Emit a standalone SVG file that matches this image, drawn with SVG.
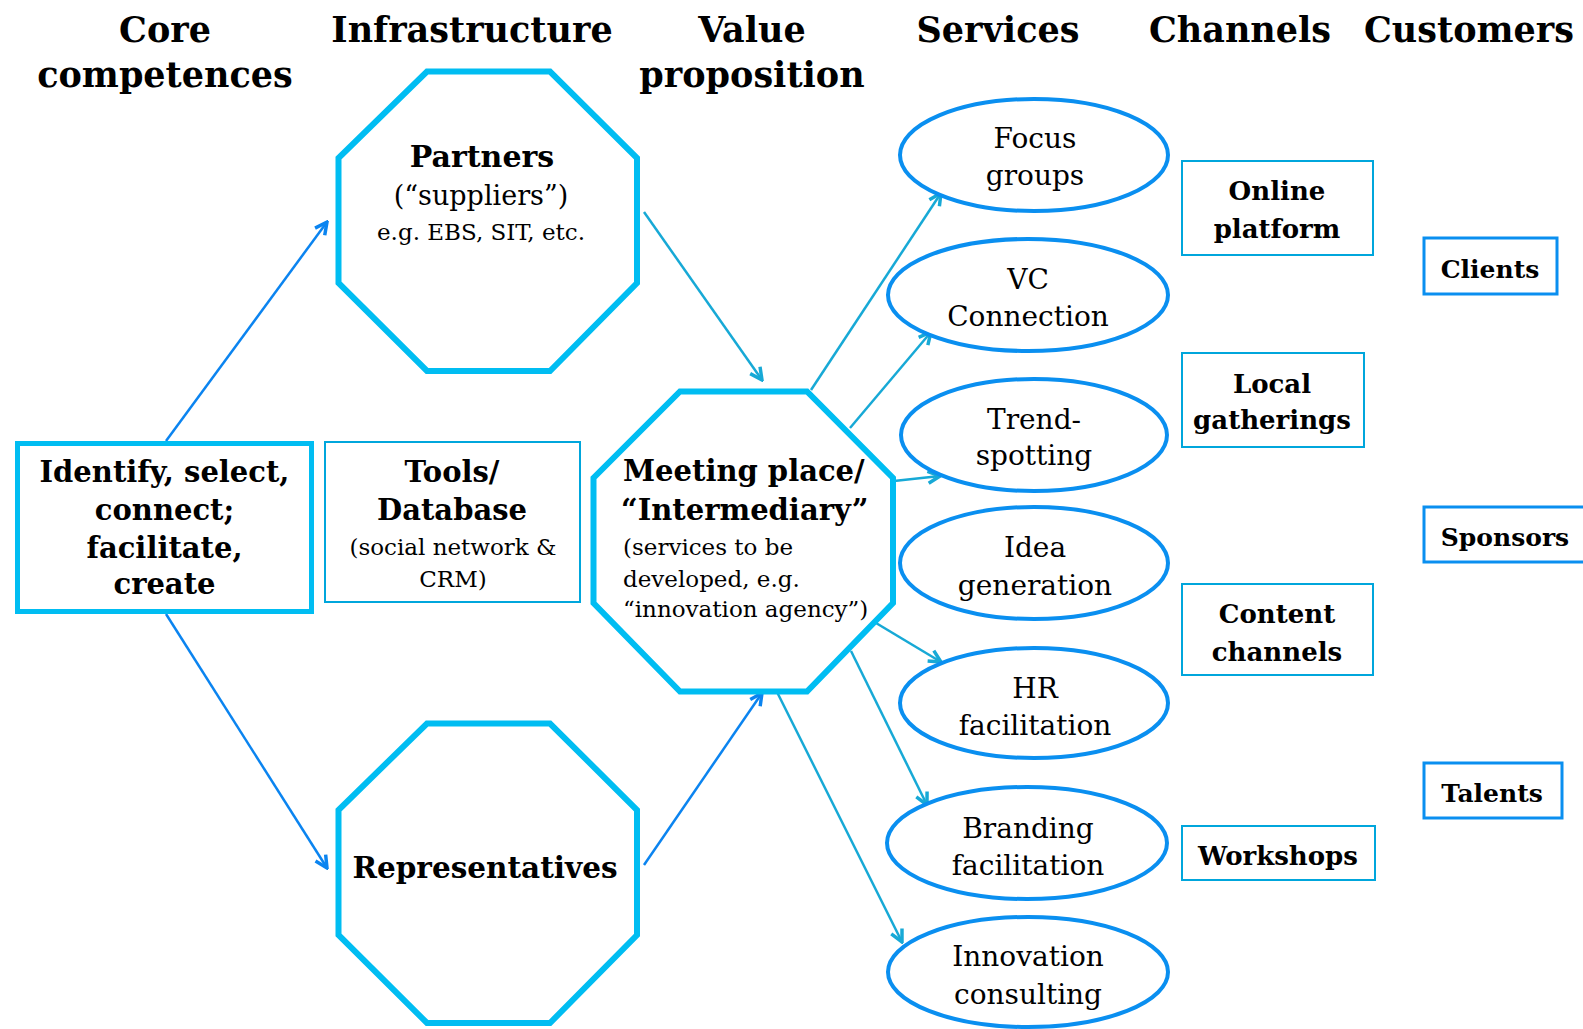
<svg xmlns="http://www.w3.org/2000/svg" width="1583" height="1029" viewBox="0 0 1583 1029">
<defs>
<style>
text{font-family:"DejaVu Serif","Liberation Serif",serif;fill:#000;text-anchor:middle}
.h{font-weight:bold;font-size:35px}
.b{font-weight:bold}
.oct{fill:#fff;stroke:#00BDF2;stroke-width:6;stroke-linejoin:miter}
.thick{fill:#fff;stroke:#00BDF2;stroke-width:5}
.thin{fill:#fff;stroke:#00A6DC;stroke-width:2}
.cust{fill:#fff;stroke:#0A8FF0;stroke-width:3}
.ell{fill:#fff;stroke:#0A8FF0;stroke-width:4}
.sv{font-size:28px}
.ch{font-size:26px;font-weight:bold}
.cu{font-size:25px;font-weight:bold}
.lb{stroke:#0B84F0;stroke-width:2.5;fill:none;marker-end:url(#ab)}
.lt{stroke:#17A9D6;stroke-width:2.5;fill:none;marker-end:url(#at)}
</style>
<marker id="ab" viewBox="0 0 12 12" refX="10.5" refY="6" markerWidth="16" markerHeight="16" markerUnits="userSpaceOnUse" orient="auto"><path d="M1.5,1.5 L10.5,6 L1.5,10.5" fill="none" stroke="#0B84F0" stroke-width="2.6"/></marker>
<marker id="at" viewBox="0 0 12 12" refX="10.5" refY="6" markerWidth="16" markerHeight="16" markerUnits="userSpaceOnUse" orient="auto"><path d="M1.5,1.5 L10.5,6 L1.5,10.5" fill="none" stroke="#17A9D6" stroke-width="2.6"/></marker>
</defs>
<rect width="1583" height="1029" fill="#fff"/>

<g id="headers">
<text class="h" x="165" y="42">Core</text>
<text class="h" x="165" y="87">competences</text>
<text class="h" x="472" y="42">Infrastructure</text>
<text class="h" x="752" y="42">Value</text>
<text class="h" x="752" y="87">proposition</text>
<text class="h" x="998" y="42">Services</text>
<text class="h" x="1240" y="42">Channels</text>
<text class="h" x="1469" y="42">Customers</text>
</g>

<g id="connectors">
<line class="lb" x1="166" y1="441" x2="327" y2="222"/>
<line class="lb" x1="166" y1="614" x2="327" y2="868"/>
<line class="lt" x1="644" y1="212" x2="762" y2="380"/>
<line class="lb" x1="644" y1="865" x2="762" y2="693"/>
<line class="lt" x1="811" y1="390" x2="941" y2="193"/>
<line class="lt" x1="850" y1="428" x2="931" y2="332"/>
<line class="lt" x1="894" y1="481" x2="940" y2="476"/>
<line class="lt" x1="876" y1="623" x2="941" y2="662"/>
<line class="lt" x1="851" y1="651" x2="927" y2="805"/>
<line class="lt" x1="774" y1="686" x2="902" y2="942"/>
</g>

<g id="identify">
<rect class="thick" x="17.5" y="443.5" width="294" height="168"/>
<text class="b" font-size="29" x="164.5" y="482">Identify, select,</text>
<text class="b" font-size="29" x="164.5" y="520">connect;</text>
<text class="b" font-size="29" x="164.5" y="558">facilitate,</text>
<text class="b" font-size="29" x="164.5" y="594">create</text>
</g>

<g id="partners">
<polygon class="oct" points="427,71.5 550,71.5 637,158 637,283 550,371 427,371 338.5,283 338.5,158"/>
<text class="b" font-size="30" x="482" y="167">Partners</text>
<text font-size="27" x="481" y="205">(“suppliers”)</text>
<text font-size="23" x="481" y="240">e.g. EBS, SIT, etc.</text>
</g>

<g id="tools">
<rect class="thin" x="325" y="442" width="255" height="160"/>
<text class="b" font-size="29" x="452" y="482">Tools/</text>
<text class="b" font-size="29" x="452" y="520">Database</text>
<text font-size="23" x="453" y="555">(social network &amp;</text>
<text font-size="23" x="453" y="587">CRM)</text>
</g>

<g id="representatives">
<polygon class="oct" points="427,723.5 550,723.5 637,810 637,935 550,1023 427,1023 338.5,935 338.5,810"/>
<text class="b" font-size="29.5" x="485" y="878">Representatives</text>
</g>

<g id="meeting">
<polygon class="oct" points="680,391.5 807,391.5 893,478 893,603 807,691.5 680,691.5 593.5,603 593.5,478"/>
<text class="b" font-size="29" x="623" y="481" style="text-anchor:start">Meeting place/</text>
<text class="b" font-size="29" x="621" y="520" style="text-anchor:start">“Intermediary”</text>
<text font-size="23" x="623" y="555" style="text-anchor:start">(services to be</text>
<text font-size="23" x="623" y="587" style="text-anchor:start">developed, e.g.</text>
<text font-size="23" x="623" y="617" style="text-anchor:start">“innovation agency”)</text>
</g>

<g id="focus">
<ellipse class="ell" cx="1034" cy="155" rx="134" ry="56"/>
<text class="sv" x="1035" y="148">Focus</text>
<text class="sv" x="1035" y="185">groups</text>
</g>
<g id="vc">
<ellipse class="ell" cx="1028" cy="295" rx="140" ry="56"/>
<text class="sv" x="1028" y="289">VC</text>
<text class="sv" x="1028" y="326">Connection</text>
</g>
<g id="trend">
<ellipse class="ell" cx="1034" cy="435" rx="133" ry="56"/>
<text class="sv" x="1034" y="429">Trend-</text>
<text class="sv" x="1034" y="465">spotting</text>
</g>
<g id="idea">
<ellipse class="ell" cx="1034" cy="563" rx="134" ry="56"/>
<text class="sv" x="1035" y="557">Idea</text>
<text class="sv" x="1035" y="595">generation</text>
</g>
<g id="hr">
<ellipse class="ell" cx="1034" cy="703" rx="134" ry="55"/>
<text class="sv" x="1035" y="698">HR</text>
<text class="sv" x="1035" y="735">facilitation</text>
</g>
<g id="branding">
<ellipse class="ell" cx="1027" cy="843" rx="140" ry="56"/>
<text class="sv" x="1028" y="838">Branding</text>
<text class="sv" x="1028" y="875">facilitation</text>
</g>
<g id="innovation">
<ellipse class="ell" cx="1028" cy="972" rx="140" ry="55"/>
<text class="sv" x="1028" y="966">Innovation</text>
<text class="sv" x="1028" y="1004">consulting</text>
</g>

<g id="online">
<rect class="thin" x="1182" y="161" width="191" height="94"/>
<text class="ch" x="1277" y="200">Online</text>
<text class="ch" x="1277" y="238">platform</text>
</g>
<g id="local">
<rect class="thin" x="1182" y="353" width="182" height="94"/>
<text class="ch" x="1272" y="393">Local</text>
<text class="ch" x="1272" y="429">gatherings</text>
</g>
<g id="content">
<rect class="thin" x="1182" y="584" width="191" height="91"/>
<text class="ch" x="1277" y="623">Content</text>
<text class="ch" x="1277" y="661">channels</text>
</g>
<g id="workshops">
<rect class="thin" x="1182" y="826" width="193" height="54"/>
<text class="ch" x="1278" y="865">Workshops</text>
</g>

<g id="clients">
<rect class="cust" x="1424" y="238" width="133" height="56"/>
<text class="cu" x="1490" y="278">Clients</text>
</g>
<g id="sponsors">
<rect class="cust" x="1424" y="507" width="165" height="55"/>
<text class="cu" x="1505" y="546">Sponsors</text>
</g>
<g id="talents">
<rect class="cust" x="1424" y="763" width="138" height="55"/>
<text class="cu" x="1492" y="802">Talents</text>
</g>
</svg>
